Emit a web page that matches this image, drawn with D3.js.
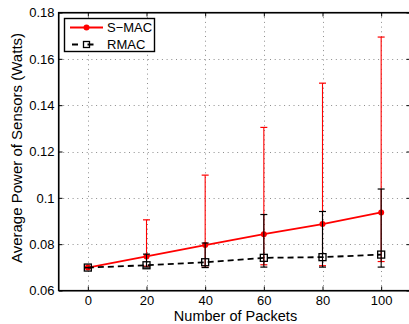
<!DOCTYPE html>
<html>
<head>
<meta charset="utf-8">
<script src="https://cdn.jsdelivr.net/npm/d3@7"></script>
<style>
  body { margin: 0; background: #fff; }
  svg { display: block; font-family: "Liberation Sans", Arial, sans-serif; }
</style>
</head>
<body>
<div id="chart"></div>
<script>
// data
const packets = [0, 20, 40, 60, 80, 100];
const smacMean = [0.0699, 0.0747, 0.0796, 0.0843, 0.0887, 0.0937];
const smacHigh = [0.0699, 0.0905, 0.1098, 0.1304, 0.1495, 0.1694];
const smacLow = [0.0699, 0.0705, 0.0700, 0.0711, 0.0707, 0.0725];
const rmacMean = [0.0699, 0.0709, 0.0722, 0.0741, 0.0744, 0.0755];
const rmacHigh = [0.0699, 0.0757, 0.0805, 0.0928, 0.0941, 0.1038];
const rmacLow = [0.0699, 0.0701, 0.0699, 0.0701, 0.0701, 0.0701];
const xTicks = [0, 20, 40, 60, 80, 100];
const yTicks = [0.06, 0.08, 0.1, 0.12, 0.14, 0.16, 0.18];

const W = 409, H = 324;
const pLeft = 58.5, pRight = 410.5, pTop = 12.5, pBottom = 290.5;

const svg = d3.select('#chart').append('svg')
    .attr('width', W)
    .attr('height', H);

const x = d3.scaleLinear().domain([-10, 110]).range([pLeft, pRight]);
const y = d3.scaleLinear().domain([0.06, 0.18]).range([pBottom, pTop]);

// dotted grid
const grid = svg.append('g')
    .attr('stroke', '#000')
    .attr('stroke-opacity', 0.45)
    .attr('stroke-width', 1)
    .attr('stroke-dasharray', '1,3.7');
grid.selectAll('.gx').data(xTicks).enter().append('line')
    .attr('x1', d => Math.round(x(d)) + 0.5).attr('x2', d => Math.round(x(d)) + 0.5)
    .attr('y1', pTop).attr('y2', pBottom);
grid.selectAll('.gy').data(yTicks.slice(1, -1)).enter().append('line')
    .attr('y1', d => Math.round(y(d)) + 0.5).attr('y2', d => Math.round(y(d)) + 0.5)
    .attr('x1', pLeft).attr('x2', pRight);

// axes with inward ticks, MATLAB style
svg.append('g')
    .attr('transform', `translate(0, ${pBottom})`)
    .call(d3.axisBottom(x).tickValues(xTicks).tickSizeInner(-4).tickSizeOuter(0).tickPadding(5));
svg.append('g')
    .attr('transform', `translate(${pLeft}, 0)`)
    .call(d3.axisLeft(y).tickValues(yTicks).tickFormat(d3.format('~g')).tickSizeInner(-4).tickSizeOuter(0).tickPadding(4));
svg.append('g')
    .attr('transform', `translate(0, ${pTop})`)
    .call(d3.axisTop(x).tickValues(xTicks).tickSizeInner(-4).tickSizeOuter(0).tickFormat(''));
svg.append('g')
    .attr('transform', `translate(${pRight}, 0)`)
    .call(d3.axisRight(y).tickValues(yTicks).tickSizeInner(-4).tickSizeOuter(0).tickFormat(''));
svg.selectAll('.domain').attr('stroke', '#000');
svg.selectAll('.tick text')
    .attr('font-size', 13)
    .attr('font-family', '"Liberation Sans", Arial, sans-serif')
    .attr('fill', '#000');

// frame
svg.append('rect')
    .attr('x', pLeft).attr('y', pTop)
    .attr('width', pRight - pLeft).attr('height', pBottom - pTop)
    .attr('fill', 'none').attr('stroke', '#000').attr('stroke-width', 1.2);

// axis titles
svg.append('text')
    .attr('x', (pLeft + pRight) / 2 + 1)
    .attr('y', 321)
    .attr('text-anchor', 'middle')
    .attr('font-size', 14.5)
    .text('Number of Packets');
svg.append('text')
    .attr('transform', `translate(22, 148) rotate(-90)`)
    .attr('text-anchor', 'middle')
    .attr('font-size', 15)
    .text('Average Power of Sensors (Watts)');

const plot = svg.append('g');

function drawSeries(mean, low, high, color, dash) {
    const g = plot.append('g');
    const idx = d3.range(packets.length);
    // error bars
    g.selectAll('.eb').data(idx).enter().append('line')
        .attr('x1', i => x(packets[i])).attr('x2', i => x(packets[i]))
        .attr('y1', i => y(low[i])).attr('y2', i => y(high[i]))
        .attr('stroke', color).attr('stroke-width', 1.1);
    const cap = 3.5;
    [low, high].forEach(arr => {
        g.selectAll('.cap').data(idx).enter().append('line')
            .attr('x1', i => x(packets[i]) - cap).attr('x2', i => x(packets[i]) + cap)
            .attr('y1', i => y(arr[i])).attr('y2', i => y(arr[i]))
            .attr('stroke', color).attr('stroke-width', 1.2);
    });
    // mean line
    g.append('path')
        .datum(idx)
        .attr('fill', 'none')
        .attr('stroke', color)
        .attr('stroke-width', 1.8)
        .attr('stroke-dasharray', dash)
        .attr('d', d3.line().x(i => x(packets[i])).y(i => y(mean[i])));
    return g;
}

const gS = drawSeries(smacMean, smacLow, smacHigh, '#ff0000', null);
gS.selectAll('.m').data(d3.range(packets.length)).enter().append('circle')
    .attr('cx', i => x(packets[i])).attr('cy', i => y(smacMean[i]))
    .attr('r', 3).attr('fill', '#ff0000');

const gR = drawSeries(rmacMean, rmacLow, rmacHigh, '#000', '6,4');
gR.selectAll('.m').data(d3.range(packets.length)).enter().append('rect')
    .attr('x', i => x(packets[i]) - 3.5).attr('y', i => y(rmacMean[i]) - 3.5)
    .attr('width', 7).attr('height', 7)
    .attr('fill', 'none').attr('stroke', '#000').attr('stroke-width', 1.3);

// legend
const lg = svg.append('g');
lg.append('rect')
    .attr('x', 64.5).attr('y', 18.5).attr('width', 90).attr('height', 33)
    .attr('fill', '#fff').attr('stroke', '#000').attr('stroke-width', 1.4);
const names = ['S\u2212MAC', 'RMAC'];
const colors = ['#ff0000', '#000'];
const rows = [27.5, 44.5];
names.forEach((n, i) => {
    lg.append('line')
        .attr('x1', 70).attr('x2', 103).attr('y1', rows[i]).attr('y2', rows[i])
        .attr('stroke', colors[i]).attr('stroke-width', 1.8)
        .attr('stroke-dasharray', i === 1 ? '6,9.5' : null)
        .attr('stroke-dashoffset', i === 1 ? -2 : null);
    if (i === 0) {
        lg.append('circle').attr('cx', 86.5).attr('cy', rows[i]).attr('r', 3).attr('fill', colors[i]);
    } else {
        lg.append('rect').attr('x', 83.5).attr('y', rows[i] - 3).attr('width', 6).attr('height', 6)
            .attr('fill', 'none').attr('stroke', '#000').attr('stroke-width', 1.3);
    }
    lg.append('text')
        .attr('x', 107).attr('y', rows[i] + 4.5)
        .attr('font-size', 13)
        .text(n);
});
</script>
</body>
</html>
